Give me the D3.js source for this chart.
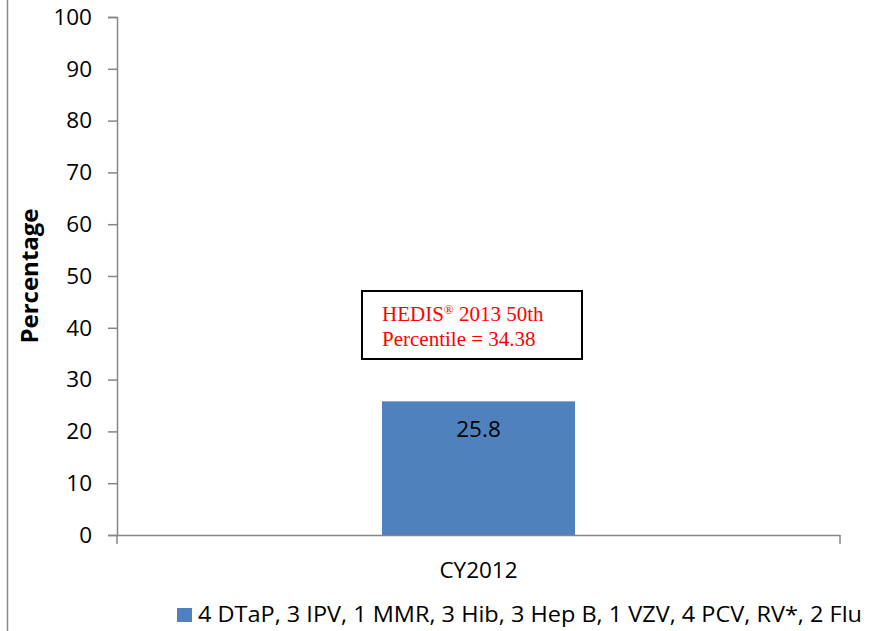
<!DOCTYPE html>
<html>
<head>
<meta charset="utf-8">
<script src="https://cdn.jsdelivr.net/npm/d3@7"></script>
<style>
  body { margin: 0; background: #fff; }
  svg { display: block; }
</style>
</head>
<body>
<div id="chart"></div>
<script>
// chart values
var categories = ['CY2012'];
var values = [25.8];
var seriesName = '4 DTaP, 3 IPV, 1 MMR, 3 Hib, 3 Hep B, 1 VZV, 4 PCV, RV*, 2 Flu';
var yTicks = [0, 10, 20, 30, 40, 50, 60, 70, 80, 90, 100];
var benchmarkLine1 = ['HEDIS', '\u00AE', ' 2013 50th'];
var benchmarkLine2 = 'Percentile = 34.38';

var W = 886, H = 631;
var font = '"Open Sans", sans-serif';
var fs = '22.5px';

var svg = d3.select('#chart').append('svg')
    .attr('width', W)
    .attr('height', H);

// outer chart border (only left edge visible)
svg.append('line')
    .attr('x1', 7.5).attr('x2', 7.5)
    .attr('y1', 0).attr('y2', H)
    .attr('stroke', '#8c8c8c').attr('stroke-width', 1.5);

var margin = {left: 117, right: 46, top: 17, bottom: 96};

var x = d3.scaleBand()
    .domain(categories)
    .range([margin.left, W - margin.right])
    .paddingInner(0)
    .paddingOuter(1.373);

var y = d3.scaleLinear()
    .domain([0, 100])
    .range([H - margin.bottom, margin.top]);

// bars
svg.selectAll('rect.bar')
    .data(values)
    .enter()
    .append('rect')
    .attr('class', 'bar')
    .attr('x', function(d, i){ return x(categories[i]); })
    .attr('width', x.bandwidth())
    .attr('y', function(d){ return y(d); })
    .attr('height', function(d){ return y(0) - y(d); })
    .attr('fill', '#4f81bd');

// value labels
svg.selectAll('text.val')
    .data(values)
    .enter()
    .append('text')
    .attr('class', 'val')
    .attr('x', function(d, i){ return x(categories[i]) + x.bandwidth() / 2; })
    .attr('y', function(d){ return y(d) + 36; })
    .attr('text-anchor', 'middle')
    .style('font-family', font)
    .style('font-size', fs)
    .attr('fill', '#000')
    .text(function(d){ return d; });

// y axis
var yAxis = svg.append('g')
    .attr('transform', 'translate(' + margin.left + ',0)')
    .call(d3.axisLeft(y).tickValues(yTicks).tickSize(9).tickPadding(16));
yAxis.select('.domain').attr('stroke', '#868686').attr('stroke-width', 1.5);
yAxis.selectAll('.tick line').attr('stroke', '#868686').attr('stroke-width', 1.5);
yAxis.selectAll('.tick text')
    .style('font-family', font)
    .style('font-size', fs)
    .attr('fill', '#000');

// x axis
var xAxis = svg.append('g')
    .attr('transform', 'translate(0,' + y(0) + ')')
    .call(d3.axisBottom(x).tickSize(0).tickPadding(27));
xAxis.select('.domain').attr('stroke', '#868686').attr('stroke-width', 1.5);
xAxis.selectAll('.tick text')
    .style('font-family', font)
    .style('font-size', fs)
    .attr('fill', '#000');
// category boundary ticks
xAxis.selectAll('line.bound')
    .data(x.range())
    .enter()
    .append('line')
    .attr('class', 'bound')
    .attr('x1', function(d){ return d; })
    .attr('x2', function(d){ return d; })
    .attr('y1', 0).attr('y2', 9)
    .attr('stroke', '#868686').attr('stroke-width', 1.5);

// y title
svg.append('text')
    .attr('transform', 'translate(38,' + y(50) + ') rotate(-90)')
    .attr('text-anchor', 'middle')
    .style('font-family', font)
    .style('font-size', '24px')
    .style('font-weight', 'bold')
    .text('Percentage');

// benchmark annotation box
var box = svg.append('g').attr('transform', 'translate(362,291)');
box.append('rect')
    .attr('x', 0).attr('y', 0)
    .attr('width', 220).attr('height', 68)
    .attr('fill', '#fff')
    .attr('stroke', '#000').attr('stroke-width', 2);
var serif = '"Liberation Serif", "Times New Roman", serif';
var t1 = box.append('text')
    .attr('x', 20).attr('y', 30)
    .style('font-family', serif)
    .style('font-size', '21px')
    .attr('fill', '#ff0000');
t1.selectAll('tspan')
    .data(benchmarkLine1)
    .enter()
    .append('tspan')
    .attr('dy', function(d, i){ return i === 1 ? -7 : (i === 2 ? 7 : 0); })
    .style('font-size', function(d, i){ return i === 1 ? '13px' : null; })
    .text(function(d){ return d; });
box.append('text')
    .attr('x', 20).attr('y', 55)
    .style('font-family', serif)
    .style('font-size', '21px')
    .attr('fill', '#ff0000')
    .text(benchmarkLine2);

// legend
var legend = svg.append('g').attr('transform', 'translate(177,608)');
legend.append('rect')
    .attr('width', 15).attr('height', 14)
    .attr('fill', '#4f81bd');
legend.append('text')
    .attr('x', 21).attr('y', 14)
    .attr('textLength', 664)
    .attr('lengthAdjust', 'spacingAndGlyphs')
    .style('font-family', font)
    .style('font-size', '22px')
    .text(seriesName);
</script>
</body>
</html>
